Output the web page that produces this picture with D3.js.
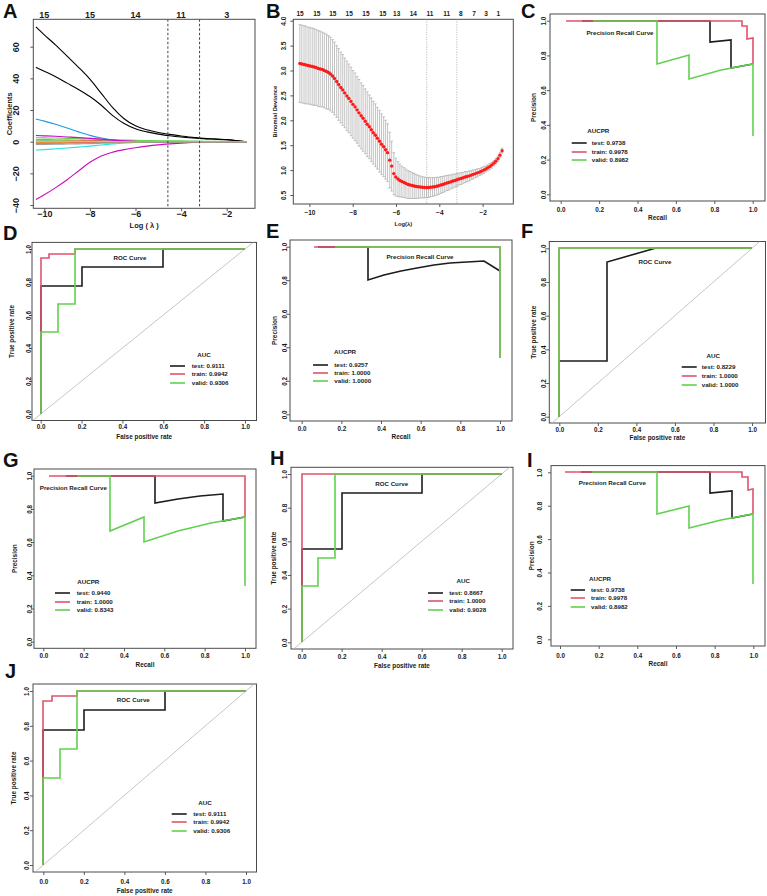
<!DOCTYPE html>
<html><head><meta charset="utf-8">
<script src="https://cdn.jsdelivr.net/npm/d3@7"></script>
<style>
body{margin:0;background:#fff;}
svg{display:block;font-family:"Liberation Sans",Arial,Helvetica,sans-serif;font-weight:bold;}
</style></head><body>
<svg id="fig" width="767" height="896"></svg>
<script>
// ---------------- DATA ----------------
// Panel A: LASSO coefficient paths
const aLogLambda = [-10.37,-10,-9.5,-9,-8.5,-8,-7.5,-7,-6.5,-6,-5.5,-5,-4.5,-4,-3.5,-3,-2.5,-2,-1.5,-1.11];
const aCoefPaths = [
  [72.5,67.5,61,54,47,39.5,30.5,21.5,14.5,10,7.5,5.8,4.6,3.6,2.8,2.1,1.7,1.3,0.6,0],
  [1.2,1.15,1.1,1.0,0.9,0.8,0.65,0.5,0.4,0.3,0.15,0,0,0,0,0,0,0,0,0],
  [2.5,2.4,2.3,2.1,1.9,1.7,1.5,1.3,1.1,0.9,0.75,0.6,0.55,0.5,0.4,0.3,0.25,0.15,0.05,0],
  [-1.0,-0.95,-0.9,-0.85,-0.8,-0.7,-0.55,-0.4,-0.3,-0.2,-0.1,0,0,0,0,0,0,0,0,0],
  [-5.3,-5.0,-4.5,-4.0,-3.4,-2.8,-2.1,-1.4,-0.8,-0.4,-0.1,0,0,0,0,0,0,0,0,0],
  [-36.5,-33.5,-29,-24,-18.5,-13,-9,-6.6,-5,-3.8,-2.8,-2.0,-1.4,-0.9,-0.5,-0.2,0,0,0,0],
  [0.3,0.3,0.28,0.25,0.22,0.2,0.15,0.1,0.05,0,0,0,0,0,0,0,0,0,0,0],
  [-1.8,-1.75,-1.65,-1.5,-1.35,-1.2,-1.0,-0.8,-0.6,-0.4,-0.3,-0.2,-0.1,0,0,0,0,0,0,0],
  [47,44.5,41,37,33,28.5,23,16.5,11.5,8.2,6.2,4.8,3.8,3.0,2.4,1.9,1.6,1.2,0.6,0],
  [-0.6,-0.58,-0.55,-0.5,-0.45,-0.4,-0.3,-0.2,-0.15,-0.1,0,0,0,0,0,0,0,0,0,0],
  [0.4,0.4,0.38,0.35,0.3,0.25,0.2,0.15,0.1,0.05,0,0,0,0,0,0,0,0,0,0],
  [14.3,13,11,8.6,6.2,4.0,2.3,1.1,0.4,0.1,0,0,0,0,0,0,0,0,0,0],
  [0.2,0.2,0.18,0.15,0.12,0.1,0.05,0,0,0,0,0,0,0,0,0,0,0,0,0],
  [3.9,3.7,3.4,3.0,2.6,2.1,1.6,1.0,0.5,0.2,0,0,0,0,0,0,0,0,0,0],
  [-0.1,-0.1,-0.09,-0.08,-0.07,-0.06,-0.04,-0.02,0,0,0,0,0,0,0,0,0,0,0,0]
];
const aTopTickPos = [-10,-8,-6,-4,-2];
const aTopTickLabels = ["15","15","14","11","3"];
const lambdaMin = -4.58, lambda1se = -3.19;

// Panel B: cross-validated binomial deviance
const bLogLambda = [-10.44,-10.35,-10.25,-10.16,-10.06,-9.97,-9.87,-9.78,-9.69,-9.59,
 -9.50,-9.40,-9.31,-9.21,-9.12,-9.03,-8.93,-8.84,-8.74,-8.65,
 -8.55,-8.46,-8.37,-8.27,-8.18,-8.08,-7.99,-7.89,-7.80,-7.71,
 -7.61,-7.52,-7.42,-7.33,-7.23,-7.14,-7.05,-6.95,-6.86,-6.76,
 -6.67,-6.57,-6.48,-6.39,-6.29,-6.20,-6.10,-6.01,-5.91,-5.82,
 -5.73,-5.63,-5.54,-5.44,-5.35,-5.25,-5.16,-5.07,-4.97,-4.88,
 -4.78,-4.69,-4.59,-4.50,-4.41,-4.31,-4.22,-4.12,-4.03,-3.93,
 -3.84,-3.75,-3.65,-3.56,-3.46,-3.37,-3.27,-3.18,-3.09,-2.99,
 -2.90,-2.80,-2.71,-2.61,-2.52,-2.43,-2.33,-2.24,-2.14,-2.05,
 -1.95,-1.86,-1.77,-1.67,-1.58,-1.48,-1.39,-1.29,-1.20,-1.10];
const bMean = [3.14,3.13,3.12,3.11,3.10,3.09,3.08,3.07,3.06,3.04,
 3.03,3.02,3.00,2.98,2.96,2.93,2.89,2.84,2.78,2.72,
 2.66,2.61,2.55,2.49,2.44,2.38,2.32,2.27,2.21,2.15,
 2.09,2.04,1.98,1.92,1.87,1.81,1.75,1.70,1.64,1.58,
 1.52,1.47,1.41,1.35,1.20,1.08,0.93,0.86,0.82,0.79,
 0.77,0.75,0.73,0.71,0.70,0.69,0.68,0.67,0.665,0.66,
 0.655,0.65,0.65,0.65,0.655,0.66,0.665,0.675,0.685,0.70,
 0.71,0.725,0.74,0.75,0.765,0.78,0.79,0.805,0.82,0.83,
 0.845,0.86,0.87,0.885,0.90,0.915,0.93,0.945,0.96,0.98,
 1.00,1.02,1.045,1.07,1.10,1.14,1.18,1.23,1.30,1.39];
const bSd = [0.78,0.78,0.78,0.78,0.77,0.77,0.77,0.77,0.76,0.76,
 0.76,0.75,0.75,0.75,0.74,0.74,0.73,0.73,0.72,0.72,
 0.71,0.71,0.70,0.70,0.69,0.69,0.68,0.68,0.67,0.67,
 0.66,0.66,0.65,0.65,0.64,0.64,0.63,0.63,0.62,0.62,
 0.61,0.60,0.59,0.58,0.56,0.50,0.42,0.38,0.35,0.33,
 0.31,0.30,0.29,0.28,0.27,0.26,0.25,0.24,0.23,0.22,
 0.21,0.21,0.20,0.20,0.19,0.19,0.18,0.18,0.17,0.17,
 0.16,0.16,0.15,0.15,0.14,0.14,0.13,0.13,0.12,0.12,
 0.11,0.11,0.10,0.10,0.09,0.09,0.08,0.08,0.07,0.07,
 0.07,0.06,0.06,0.06,0.06,0.05,0.05,0.05,0.05,0.05];
const bTopTickPos = [-10.43,-9.66,-8.92,-8.16,-7.39,-6.61,-5.97,-5.20,-4.43,-3.66,-3.01,-2.40,-1.84,-1.27];
const bTopTickLabels = ["15","15","15","15","15","15","13","14","11","11","8","7","3","1"];

// Series shared by the ROC / PR panels
const seriesNames = ["test","train","valid"];

// C and I: precision-recall
const prC = {
  test:  [[0.111,1],[0.778,1],[0.778,0.875],[0.889,0.889],[0.889,0.727],[1,0.75]],
  train: [[0.028,1],[0.944,1],[0.944,0.971],[0.972,0.972],[0.972,0.897],[1,0.9],[1,0.75]],
  valid: [[0.167,1],[0.5,1],[0.5,0.75],[0.667,0.8],[0.667,0.667],[0.833,0.714],[1,0.75],[1,0.333]]
};
const prCValues = ["0.9738","0.9978","0.8982"];
// D and J: ROC
const rocD = {
  test:  [[0,0],[0,0.778],[0.2,0.778],[0.2,0.889],[0.6,0.889],[0.6,1],[1,1]],
  train: [[0,0],[0,0.944],[0.042,0.944],[0.042,0.972],[0.167,0.972],[0.167,1],[1,1]],
  valid: [[0,0],[0,0.5],[0.083,0.5],[0.083,0.667],[0.167,0.667],[0.167,1],[1,1]]
};
const rocDValues = ["0.9111","0.9942","0.9306"];
// E: precision-recall
const prE = {
  test:  [[0.083,1],[0.333,1],[0.333,0.8],[0.417,0.833],[0.5,0.857],[0.583,0.875],[0.667,0.889],[0.75,0.9],[0.833,0.909],[0.917,0.917],[1,0.857]],
  train: [[0.063,1],[1,1],[1,0.333]],
  valid: [[0.167,1],[1,1],[1,0.333]]
};
const prEValues = ["0.9257","1.0000","1.0000"];
// F: ROC
const rocF = {
  test:  [[0,0],[0,0.333],[0.25,0.333],[0.25,0.917],[0.5,1],[1,1]],
  train: [[0,0],[0,1],[1,1]],
  valid: [[0,0],[0,1],[1,1]]
};
const rocFValues = ["0.8229","1.0000","1.0000"];
// G: precision-recall
const prG = {
  test:  [[0.111,1],[0.556,1],[0.556,0.833],[0.667,0.857],[0.778,0.875],[0.889,0.889],[0.889,0.727],[1,0.75]],
  train: [[0.028,1],[1,1],[1,0.75]],
  valid: [[0.167,1],[0.333,1],[0.333,0.667],[0.5,0.75],[0.5,0.6],[0.667,0.667],[0.833,0.714],[1,0.75],[1,0.333]]
};
const prGValues = ["0.9440","1.0000","0.8343"];
// H: ROC
const rocH = {
  test:  [[0,0],[0,0.556],[0.2,0.556],[0.2,0.889],[0.6,0.889],[0.6,1],[1,1]],
  train: [[0,0],[0,1],[1,1]],
  valid: [[0,0],[0,0.333],[0.083,0.333],[0.083,0.5],[0.167,0.5],[0.167,1],[1,1]]
};
const rocHValues = ["0.8667","1.0000","0.9028"];

const unitTicks = [0,0.2,0.4,0.6,0.8,1];

// ---------------- STYLE / LAYOUT ----------------
const seriesColors = ["#1c1c1c","#DF536B","#61D04F"];
const aPalette = ["#000000","#DF536B","#61D04F","#2297E6","#28E2E5","#CD0BBC","#F5C710","#9E9E9E"];
const INK = "#1a1a1a", BOXC = "#4a4a4a";

const L = {
 A:{box:[33.3,19.3,255,208.3], xDom:[-10,-2], xRange:[44.3,226.7], yDom:[0,60], yRange:[141.7,46.7], letter:[3,18], xLabY:213.5, yLabX:15.5, xTitleY:225, yTitleX:9.7, tickFs:9, titleFs:7.5, topY:15},
 B:{box:[293.3,19.3,513.3,204], xDom:[-6,-4], xRange:[396,439.3], yDom:[0.5,4], yRange:[195,20.7], letter:[266,18], xLabY:213, yLabX:283.3, xTitleY:223.5, yTitleX:275, tickFs:6.5, titleFs:5.8, topY:14},
 C:{box:[550,14,765,201], xRange:[560.7,752.7], yRange:[194.3,20.7], letter:[521,18], xLabY:210, yLabX:543.3, xTitleY:217.5, yTitleX:533.3,
    cap:[620,33.3], leg:{title:[598.3,130.7], lx:[571.7,586.7], tx:591.7, rows:[143.3,151.7,160]}},
 D:{box:[32,242.4,256.5,420.5], xRange:[40.7,245], yRange:[414,249], letter:[3,240], xLabY:426.5, yLabX:28.3, xTitleY:436.7, yTitleX:11.7,
    cap:[130,258.3], leg:{title:[204,355], lx:[170,185], tx:191.7, rows:[365.7,374.3,382.7]}},
 E:{box:[290,240,512,421], xRange:[301.7,500], yRange:[414.3,246.7], letter:[266,238], xLabY:428.3, yLabX:285, xTitleY:436.5, yTitleX:275,
    cap:[420,256.7], leg:{title:[345,351.7], lx:[313,328], tx:334.3, rows:[365,372.7,380.7]}},
 F:{box:[549.3,241.5,765.5,423], xRange:[559.3,752], yRange:[416.7,248.3], letter:[521,238], xLabY:430, yLabX:543.3, xTitleY:438, yTitleX:533.3,
    cap:[655,262.3], leg:{title:[713.3,356], lx:[681.7,696.7], tx:701.7, rows:[366.7,376,385]}},
 G:{box:[34,469,256,648.3], xRange:[43.3,245], yRange:[641.7,475.7], letter:[3,467], xLabY:655.7, yLabX:30, xTitleY:665, yTitleX:15,
    cap:[73.3,488.3], leg:{title:[88.3,581.7], lx:[55,70], tx:76.7, rows:[592.7,601.7,610]}},
 H:{box:[291,467.3,513,649], xRange:[301.7,501.7], yRange:[642.3,474], letter:[270,465], xLabY:656.7, yLabX:285, xTitleY:665.5, yTitleX:273.3,
    cap:[391.7,484.3], leg:{title:[463.3,581], lx:[428,443], tx:449.3, rows:[592.7,601,610]}},
 I:{box:[551,465.6,765,646], xRange:[560,753.3], yRange:[639.3,472.3], letter:[527,467], xLabY:655.7, yLabX:539.3, xTitleY:664, yTitleX:531.7,
    cap:[612.3,482.7], leg:{title:[600,579.3], lx:[570.7,585], tx:591, rows:[590,598.3,606.7]}},
 J:{box:[33,684,256.5,872], xRange:[43.3,246], yRange:[865,691], letter:[5,678], xLabY:881.7, yLabX:26.7, xTitleY:891, yTitleX:13.3,
    cap:[133.3,700], leg:{title:[205,802.7], lx:[171.7,186.7], tx:193.3, rows:[814,822.3,830.7]}}
};

// ---------------- DRAWING ----------------
const svg = d3.select("#fig");
const defs = svg.append("defs");
const snap = v => Math.round(v);

function frame(key, p, x, y, xTicks, yTicks, xFmt, yFmt, xTitle, yTitle) {
  const [x0,y0,x1,y1] = p.box;
  const tickFs = p.tickFs || 6.3, titleFs = p.titleFs || 6.4;
  const g = svg.append("g");
  defs.append("clipPath").attr("id","clip"+key).append("rect")
    .attr("x",x0).attr("y",y0).attr("width",x1-x0).attr("height",y1-y0);
  const bx = g.append("g").attr("transform",`translate(0,${y1})`)
    .call(d3.axisBottom(x).tickValues(xTicks).tickSize(3).tickFormat(xFmt));
  bx.select(".domain").remove();
  bx.attr("font-size",null).attr("font-family",null);
  bx.selectAll("line").attr("stroke",BOXC).attr("stroke-width",0.9);
  bx.selectAll("text").attr("y",p.xLabY - y1).attr("dy","0.35em")
    .attr("font-size",tickFs).attr("fill",INK);
  const ly = g.append("g").attr("transform",`translate(${x0},0)`)
    .call(d3.axisLeft(y).tickValues(yTicks).tickSize(3).tickFormat(yFmt));
  ly.select(".domain").remove();
  ly.attr("font-size",null).attr("font-family",null);
  ly.selectAll("line").attr("stroke",BOXC).attr("stroke-width",0.9);
  ly.selectAll("text").attr("x",0).attr("dy","0.35em").attr("text-anchor","middle")
    .attr("transform",`translate(${p.yLabX - x0},0) rotate(-90)`)
    .attr("font-size",tickFs).attr("fill",INK);
  g.append("rect").attr("x",x0).attr("y",y0).attr("width",x1-x0).attr("height",y1-y0)
    .attr("fill","none").attr("stroke",BOXC).attr("stroke-width",1);
  g.append("text").attr("x",(x0+x1)/2).attr("y",p.xTitleY).attr("dy","0.35em")
    .attr("text-anchor","middle").attr("font-size",titleFs).attr("fill",INK).text(xTitle);
  g.append("text").attr("transform",`translate(${p.yTitleX},${(y0+y1)/2}) rotate(-90)`)
    .attr("dy","0.35em").attr("text-anchor","middle").attr("font-size",titleFs).attr("fill",INK).text(yTitle);
  svg.append("text").attr("x",p.letter[0]).attr("y",p.letter[1]).attr("font-size",20)
    .attr("fill","#111").text(key);
  return svg.append("g").attr("clip-path",`url(#clip${key})`);
}

// ---- Panel A ----
(function(){
  const p = L.A;
  const x = d3.scaleLinear().domain(p.xDom).range(p.xRange);
  const y = d3.scaleLinear().domain(p.yDom).range(p.yRange);
  const plot = frame("A", p, x, y, [-10,-8,-6,-4,-2], [-40,-20,0,20,40,60], d3.format("d"), d3.format("d"), "Log ( λ )", "Coefficients");
  const line = d3.line().x((d,i)=>x(aLogLambda[i])).y(d=>y(d)).curve(d3.curveMonotoneX);
  aCoefPaths.forEach((path,k)=>{
    plot.append("path").attr("d",line(path)).attr("fill","none")
      .attr("stroke",aPalette[k % aPalette.length]).attr("stroke-width",1.1);
  });
  [lambdaMin, lambda1se].forEach(v=>{
    plot.append("line").attr("x1",x(v)).attr("x2",x(v)).attr("y1",p.box[1]).attr("y2",p.box[3])
      .attr("stroke","#444").attr("stroke-width",1).attr("stroke-dasharray","2.5,2");
  });
  svg.append("g").selectAll("text").data(aTopTickPos).join("text")
    .attr("x",d=>x(d)).attr("y",p.topY).attr("dy","0.35em").attr("text-anchor","middle")
    .attr("font-size",p.tickFs).attr("fill",INK).text((d,i)=>aTopTickLabels[i]);
})();

// ---- Panel B ----
(function(){
  const p = L.B;
  const x = d3.scaleLinear().domain(p.xDom).range(p.xRange);
  const y = d3.scaleLinear().domain(p.yDom).range(p.yRange);
  const plot = frame("B", p, x, y, [-10,-8,-6,-4,-2], [0.5,1,1.5,2,2.5,3,3.5,4], d3.format("d"), d3.format(".1f"), "Log(λ)", "Binomial Deviance");
  const bars = plot.append("g").attr("stroke","#b3b3b3").attr("stroke-width",0.8);
  bLogLambda.forEach((l,i)=>{
    const cx = x(l), hi = y(bMean[i]+bSd[i]), lo = y(bMean[i]-bSd[i]);
    bars.append("line").attr("x1",cx).attr("x2",cx).attr("y1",hi).attr("y2",lo);
    bars.append("line").attr("x1",cx-1.3).attr("x2",cx+1.3).attr("y1",hi).attr("y2",hi);
    bars.append("line").attr("x1",cx-1.3).attr("x2",cx+1.3).attr("y1",lo).attr("y2",lo);
  });
  [lambdaMin, lambda1se].forEach(v=>{
    plot.append("line").attr("x1",x(v)).attr("x2",x(v)).attr("y1",p.box[1]).attr("y2",p.box[3])
      .attr("stroke","#9a9a9a").attr("stroke-width",0.8).attr("stroke-dasharray","1,1.5");
  });
  plot.append("g").selectAll("circle").data(bMean).join("circle")
    .attr("cx",(d,i)=>x(bLogLambda[i])).attr("cy",d=>y(d)).attr("r",1.7).attr("fill","#ff1a1a");
  svg.append("g").selectAll("text").data(bTopTickPos).join("text")
    .attr("x",d=>x(d)).attr("y",p.topY).attr("dy","0.35em").attr("text-anchor","middle")
    .attr("font-size",p.tickFs).attr("fill",INK).text((d,i)=>bTopTickLabels[i]);
})();

// ---- ROC / PR panels ----
function curvePanel(key, data, values, isRoc) {
  const p = L[key];
  const x = d3.scaleLinear().domain([0,1]).range(p.xRange);
  const y = d3.scaleLinear().domain([0,1]).range(p.yRange);
  const xTitle = isRoc ? "False positive rate" : "Recall";
  const yTitle = isRoc ? "True positive rate" : "Precision";
  const plot = frame(key, p, x, y, unitTicks, unitTicks, d3.format(".1f"), d3.format(".1f"), xTitle, yTitle);
  if (isRoc) {
    plot.append("line").attr("x1",x(-0.2)).attr("y1",y(-0.2)).attr("x2",x(1.2)).attr("y2",y(1.2))
      .attr("stroke","#b8b8b8").attr("stroke-width",0.8);
  }
  const line = d3.line().x(d=>snap(x(d[0]))).y(d=>snap(y(d[1])));
  seriesNames.forEach((s,k)=>{
    plot.append("path").attr("d",line(data[s])).attr("fill","none")
      .attr("stroke",seriesColors[k]).attr("stroke-width",1.6);
  });
  const fs = 6.2;
  svg.append("text").attr("x",p.cap[0]).attr("y",p.cap[1]).attr("dy","0.35em").attr("text-anchor","middle")
    .attr("font-size",fs).attr("fill",INK).text(isRoc ? "ROC Curve" : "Precision Recall Curve");
  const lg = svg.append("g");
  lg.append("text").attr("x",p.leg.title[0]).attr("y",p.leg.title[1]).attr("dy","0.35em")
    .attr("text-anchor","middle").attr("font-size",fs).attr("fill",INK).text(isRoc ? "AUC" : "AUCPR");
  seriesNames.forEach((s,k)=>{
    const ry = p.leg.rows[k];
    lg.append("line").attr("x1",p.leg.lx[0]).attr("x2",p.leg.lx[1]).attr("y1",snap(ry)).attr("y2",snap(ry))
      .attr("stroke",seriesColors[k]).attr("stroke-width",1.6);
    lg.append("text").attr("x",p.leg.tx).attr("y",ry).attr("dy","0.35em")
      .attr("font-size",fs).attr("fill",INK).text(`${s}: ${values[k]}`);
  });
}

curvePanel("C", prC, prCValues, false);
curvePanel("D", rocD, rocDValues, true);
curvePanel("E", prE, prEValues, false);
curvePanel("F", rocF, rocFValues, true);
curvePanel("G", prG, prGValues, false);
curvePanel("H", rocH, rocHValues, true);
curvePanel("I", prC, prCValues, false);
curvePanel("J", rocD, rocDValues, true);
</script>
</body></html>
